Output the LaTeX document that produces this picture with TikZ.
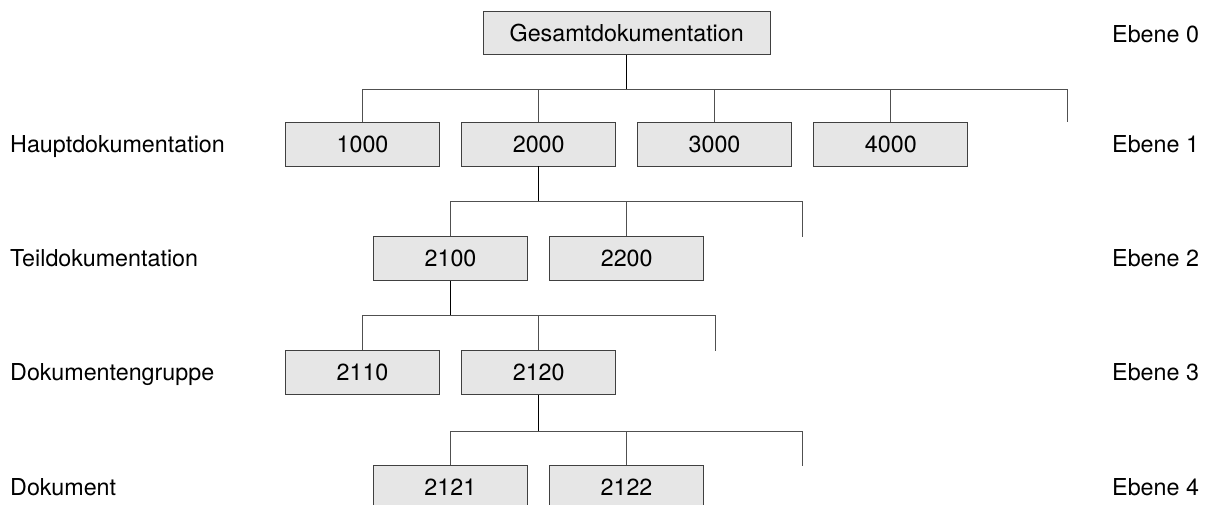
\documentclass[tikz,border=0pt]{standalone}
\usepackage{fontspec}
\setmainfont{TeX Gyre Heros}
\definecolor{boxfill}{HTML}{E6E6E6}
\definecolor{boxline}{HTML}{404040}
\definecolor{linegray}{HTML}{505050}
\begin{document}
\begin{tikzpicture}[x=1pt,y=-1pt,
  docbox/.style={draw=boxline, fill=boxfill, line width=0.9pt,
    minimum width=154pt, minimum height=44pt, inner sep=0pt,
    font=\fontsize{23.3}{27}\selectfont},
  lvl/.style={anchor=base west, inner sep=0pt, font=\fontsize{23.3}{27}\selectfont},
  stemline/.style={draw=black, line width=1.3pt},
  branch/.style={draw=linegray, line width=0.9pt}]
\clip (0,0) rectangle (1208,504);

% level 0
\node[docbox, minimum width=287pt, minimum height=43pt] (g) at (626.7,33.4) {Gesamtdokumentation};

% level 1
\node[docbox] (p1) at (362.5,144) {1000};
\node[docbox] (p2) at (538.7,144) {2000};
\node[docbox] (p3) at (714.5,144) {3000};
\node[docbox] (p4) at (890.8,144) {4000};
\coordinate (end1) at (1067.7,122);
\coordinate (bus1) at (626.7,89);

% level 2
\node[docbox] (t1) at (450.5,258.3) {2100};
\node[docbox] (t2) at (626.7,258.3) {2200};
\coordinate (end2) at (802.7,236.5);
\coordinate (bus2) at (538.7,201);

% level 3
\node[docbox] (d1) at (362.5,372.7) {2110};
\node[docbox] (d2) at (538.7,372.7) {2120};
\coordinate (end3) at (715,350.5);
\coordinate (bus3) at (450.5,315);

% level 4
\node[docbox] (k1) at (450.3,487.7) {2121};
\node[docbox] (k2) at (626.5,487.7) {2122};
\coordinate (end4) at (802.7,465.5);
\coordinate (bus4) at (538.7,431);

% connectors: level 0 -> level 1
\draw[branch] (p1.north) |- (end1 |- bus1) -- (end1);
\foreach \n in {p2,p3,p4} \draw[branch] (\n.north) -- (\n.north |- bus1);
\draw[stemline] (g.south) -- (bus1);

% level 1 -> level 2
\draw[branch] (t1.north) |- (end2 |- bus2) -- (end2);
\draw[branch] (t2.north) -- (t2.north |- bus2);
\draw[stemline] (p2.south) -- (bus2);

% level 2 -> level 3
\draw[branch] (d1.north) |- (end3 |- bus3) -- (end3);
\draw[branch] (d2.north) -- (d2.north |- bus3);
\draw[stemline] (t1.south) -- (bus3);

% level 3 -> level 4
\draw[branch] (k1.north) |- (end4 |- bus4) -- (end4);
\draw[branch] (k2.north) -- (k2.north |- bus4);
\draw[stemline] (d2.south) -- (bus4);

% level names
\node[lvl] (n1) at (10,152.3) {Hauptdokumentation};
\node[lvl] (n2) at (10,266.7) {Teildokumentation};
\node[lvl] (n3) at (10,380.7) {Dokumentengruppe};
\node[lvl] (n4) at (10,495.5) {Dokument};

\node[lvl] (e0) at (1112,42.3) {Ebene 0};
\node[lvl] (e1) at (1112,152.3) {Ebene 1};
\node[lvl] (e2) at (1112,266.7) {Ebene 2};
\node[lvl] (e3) at (1112,380.7) {Ebene 3};
\node[lvl] (e4) at (1112,495.5) {Ebene 4};
\end{tikzpicture}
\end{document}
